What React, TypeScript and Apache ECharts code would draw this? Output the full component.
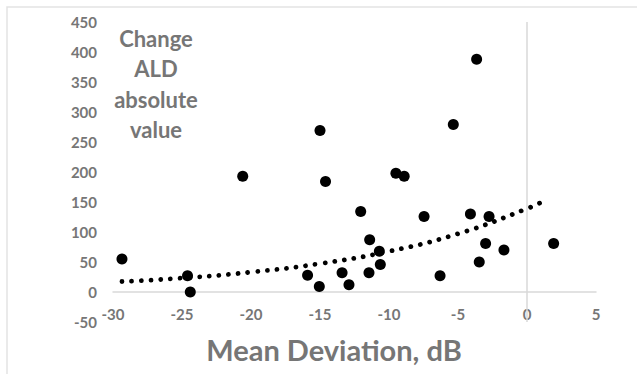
import React, { useEffect, useRef } from "react";
import * as echarts from "echarts";

// Mean Deviation (dB) of each eye
const meanDeviation: number[] = [
  -29.35, -24.6, -24.4, -20.6,
  -15.0, -14.6, -12.05, -11.4, -10.7, -10.63, -11.45, -13.4, -15.9, -15.05, -12.9, -9.5, -8.9,
  -3.65, -5.34, -7.46, -4.1, -2.75, -3.0, -1.67, -3.46, -6.3, 1.93,
];
// Change in ALD, absolute value
const changeALD: number[] = [
  55, 27, 0, 193,
  269, 184, 134, 87, 68, 46, 32, 32, 28, 9, 12, 198, 193,
  388, 279, 126, 130, 126, 81, 70, 50, 27, 81,
];

// Exponential trendline, values
const trendX: number[] = [-29.35, -25, -20, -15, -10, -5, 0, 1.5];
const trendY: number[] = [17.5, 23.2, 33.1, 47.3, 67.8, 97.1, 139, 155];

const xTicks = { min: -30, max: 5, interval: 5 };
const yTicks = { min: -50, max: 450, interval: 50 };

const GRAY = "#767676";
const AXIS_GRAY = "#d9d9d9";
const FONT = "Lato";

export default function App() {
  const ref = useRef<HTMLDivElement>(null);
  useEffect(() => {
    if (!ref.current) return;
    const chart = echarts.init(ref.current, undefined, { renderer: "svg" });
    chart.setOption({
      animation: false,
      backgroundColor: "#ffffff",
      grid: { left: 113, right: 41, top: 22, bottom: 52 },
      xAxis: {
        type: "value",
        min: xTicks.min,
        max: xTicks.max,
        interval: xTicks.interval,
        axisLine: { show: true, onZero: true, lineStyle: { color: AXIS_GRAY, width: 1.5 } },
        axisTick: { show: false },
        splitLine: { show: false },
        axisLabel: { color: GRAY, fontFamily: FONT, fontWeight: "bold", fontSize: 15, margin: -16 },
      },
      yAxis: {
        type: "value",
        min: yTicks.min,
        max: yTicks.max,
        interval: yTicks.interval,
        axisLine: { show: false, onZero: false },
        axisTick: { show: false },
        splitLine: { show: false },
        axisLabel: { color: GRAY, fontFamily: FONT, fontWeight: "bold", fontSize: 15, margin: 16 },
      },
      graphic: [
        {
          type: "rect",
          shape: { x: 7, y: 7, width: 700, height: 500 },
          style: { fill: "none", stroke: "#e3e3e3", lineWidth: 1.5 },
          silent: true,
          z: -10,
        },
        {
          type: "text",
          x: 156,
          y: 84,
          style: {
            text: "Change\nALD\nabsolute\nvalue",
            fill: GRAY,
            font: `bold 22px ${FONT}`,
            align: "center",
            verticalAlign: "middle",
            lineHeight: 30.5,
          },
        },
        {
          type: "text",
          x: 334,
          y: 349,
          style: {
            text: "Mean Deviation, dB",
            fill: GRAY,
            font: `bold 29px ${FONT}`,
            align: "center",
            verticalAlign: "middle",
          },
        },
      ],
      series: [
        {
          type: "line",
          data: trendX.map((x, i) => [x, trendY[i]]),
          smooth: true,
          showSymbol: false,
          silent: true,
          lineStyle: { color: "#000000", width: 4.8, type: [0.01, 9.7], cap: "round", opacity: 1 },
          z: 2,
        },
        {
          type: "scatter",
          data: meanDeviation.map((x, i) => [x, changeALD[i]]),
          symbol: "circle",
          symbolSize: 11,
          itemStyle: { color: "#000000", opacity: 1 },
          z: 3,
          markLine: {
            silent: true,
            symbol: "none",
            label: { show: false },
            lineStyle: { color: AXIS_GRAY, width: 1.5, type: "solid" },
            data: [{ xAxis: 0 }],
          },
        },
      ],
    });
    return () => chart.dispose();
  }, []);
  return (
    <div
      ref={ref}
      style={{ position: "fixed", left: 0, top: 0, width: 637, height: 374, background: "#fff" }}
    />
  );
}
